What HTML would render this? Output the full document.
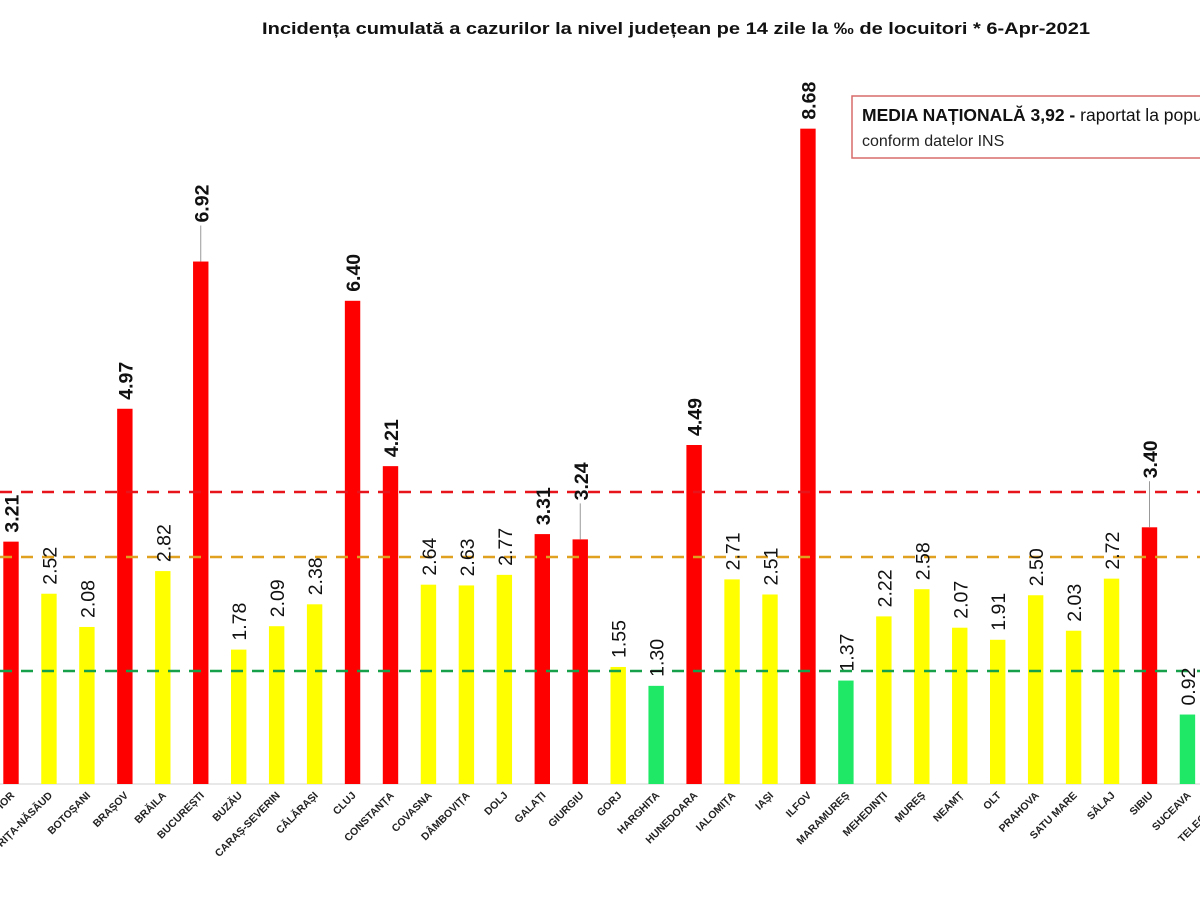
<!DOCTYPE html>
<html><head><meta charset="utf-8"><style>
body{margin:0;background:#fff}
svg{display:block}
</style></head><body>
<svg width="1200" height="900" xmlns="http://www.w3.org/2000/svg" font-family="Liberation Sans, sans-serif">
<rect width="1200" height="900" fill="#fff"/>
<text x="262" y="34" font-size="16.5" font-weight="bold" fill="#111" textLength="828" lengthAdjust="spacingAndGlyphs">Incidența cumulată a cazurilor la nivel județean pe 14 zile la ‰ de locuitori *   6-Apr-2021</text>
<line x1="0" y1="784" x2="1200" y2="784" stroke="#d0d0d0" stroke-width="1"/>
<g id="bars"></g>
<line x1="0" y1="492" x2="1200" y2="492" stroke="#e8141c" stroke-width="2.5" stroke-dasharray="12,9"/>
<line x1="0" y1="557" x2="1200" y2="557" stroke="#e0a020" stroke-width="2.5" stroke-dasharray="12,9"/>
<line x1="0" y1="671" x2="1200" y2="671" stroke="#16a04a" stroke-width="2.5" stroke-dasharray="12,9"/>
<g id="labels"></g>
<rect x="852" y="96" width="360" height="62" fill="#fff" stroke="#d86a6a" stroke-width="1.5"/>
<text x="862" y="121" font-size="17.5" fill="#111"><tspan font-weight="bold">MEDIA NAȚIONALĂ  3,92 -</tspan> raportat la populație</text>
<text x="862" y="146" font-size="16" fill="#222">conform datelor INS</text>
</svg>
<script>
const d=[["BIHOR",3.21,"r"],["BISTRIȚA-NĂSĂUD",2.52,"y"],["BOTOȘANI",2.08,"y"],["BRAȘOV",4.97,"r"],["BRĂILA",2.82,"y"],["BUCUREȘTI",6.92,"r",30],["BUZĂU",1.78,"y"],["CARAȘ-SEVERIN",2.09,"y"],["CĂLĂRAȘI",2.38,"y"],["CLUJ",6.40,"r"],["CONSTANȚA",4.21,"r"],["COVASNA",2.64,"y"],["DÂMBOVIȚA",2.63,"y"],["DOLJ",2.77,"y"],["GALAȚI",3.31,"r"],["GIURGIU",3.24,"r",30],["GORJ",1.55,"y"],["HARGHITA",1.30,"g"],["HUNEDOARA",4.49,"r"],["IALOMIȚA",2.71,"y"],["IAȘI",2.51,"y"],["ILFOV",8.68,"r"],["MARAMUREȘ",1.37,"g"],["MEHEDINȚI",2.22,"y"],["MUREȘ",2.58,"y"],["NEAMȚ",2.07,"y"],["OLT",1.91,"y"],["PRAHOVA",2.50,"y"],["SATU MARE",2.03,"y"],["SĂLAJ",2.72,"y"],["SIBIU",3.40,"r",40],["SUCEAVA",0.92,"g"],["TELEORMAN",3.5,"r"]];
const col={r:"#ff0000",y:"#ffff00",g:"#1ee866"};
let b="",l="";
d.forEach((e,i)=>{const cx=11+37.95*i;const top=784-e[1]*75.5;
b+=`<rect x="${cx-7.7}" y="${top}" width="15.4" height="${784-top}" fill="${col[e[2]]}"/>`;
const off=e[3]||0;const ly=top-9-off;
if(off)l+=`<line x1="${cx}" y1="${top}" x2="${cx}" y2="${ly+3}" stroke="#999" stroke-width="1"/>`;
l+=`<text transform="translate(${cx+7.5},${ly}) rotate(-90)" font-size="19.5" fill="#111" font-weight="${e[2]=='r'?'bold':'normal'}">${e[1].toFixed(2)}</text>`;
l+=`<text transform="translate(${cx+4},796) rotate(-45)" text-anchor="end" font-size="10.5" font-weight="bold" fill="#222">${e[0]}</text>`;});
document.getElementById("bars").innerHTML=b;document.getElementById("labels").innerHTML=l;
</script>
</body></html>
